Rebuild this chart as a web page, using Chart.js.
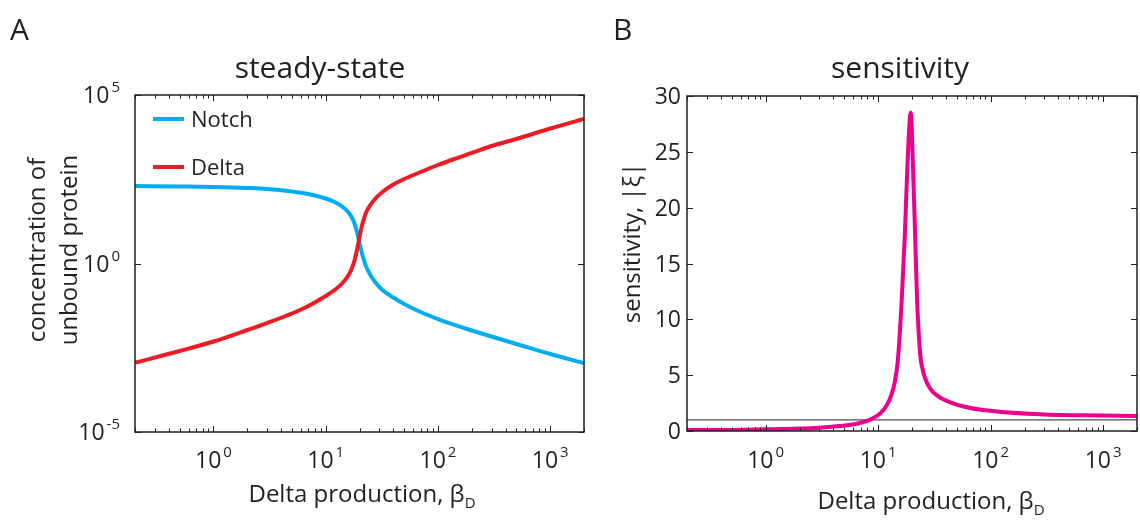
<!DOCTYPE html>
<html>
<head>
<meta charset="utf-8">
<script src="https://cdn.jsdelivr.net/npm/chart.js@4.4.1/dist/chart.umd.min.js"></script>
<style>
  html, body { margin: 0; padding: 0; background: #fff; }
  #wrap { position: relative; width: 1140px; height: 521px; }
  #chartA { position: absolute; left: 0; top: 0; }
  #chartB { position: absolute; left: 590px; top: 0; }
</style>
</head>
<body>
<div id="wrap">
  <canvas id="chartA" width="590" height="521"></canvas>
  <canvas id="chartB" width="550" height="521"></canvas>
</div>
<script>
// Panel A: steady-state concentrations vs Delta production (log-log)
const betaD = [0.2, 0.5, 1, 2, 3, 5, 7, 10, 12, 14, 16, 17, 18, 19, 20, 21, 22, 23, 25, 28, 32, 40, 50, 70, 100, 140, 200, 300, 500, 1000, 2000];
const notchLevel = [199.5, 192.8, 186.2, 173.8, 162.5, 136.9, 115.3, 84.8, 66.8, 49.1, 32.6, 24.0, 15.9, 8.61, 4.06, 2.05, 1.19, 0.787, 0.456, 0.264, 0.164, 0.098, 0.0628, 0.0364, 0.0225, 0.0150, 0.0103, 0.00682, 0.00409, 0.00206, 0.00111];
const deltaLevel = [0.00114, 0.00253, 0.00485, 0.01064, 0.01715, 0.0328, 0.0548, 0.1086, 0.1637, 0.2552, 0.456, 0.687, 1.186, 2.52, 6.11, 12.97, 22.4, 33.7, 54.4, 87.9, 132.5, 220.9, 321.4, 518.8, 837.5, 1262, 1903, 3070, 4947, 10140, 19400];

// Panel B: sensitivity vs Delta production (log x)
const sensBeta = [0.2, 0.5, 1, 2, 3, 4.5, 6.06, 8.42, 10.5, 11.93, 13.2, 14.06, 14.86, 15.57, 16.2, 17.3, 18.2, 19.5, 20.4, 21.3, 22.2, 23.8, 24.9, 26.0, 28.2, 30.6, 36.1, 44.3, 60, 85.3, 237, 661, 2000];
const sensValue = [0.08, 0.1, 0.15, 0.22, 0.3, 0.45, 0.6, 1.0, 1.6, 2.3, 3.3, 4.4, 6.0, 8.7, 11.7, 17.7, 23.7, 28.5, 23.7, 17.7, 11.7, 6.6, 5.5, 4.8, 4.0, 3.5, 2.95, 2.55, 2.15, 1.88, 1.52, 1.40, 1.34];
const refBeta = [0.2, 2000];
const refValue = [1, 1];

// tick labels
const xDecades = [0, 1, 2, 3];
const yDecadesA = [5, 0, -5];
const yTicksB = [0, 5, 10, 15, 20, 25, 30];

const ink = '#231f20';
const family = "'Open Sans', sans-serif";

function toPoints(xs, ys) {
  return xs.map((v, i) => ({ x: v, y: ys[i] }));
}

function powLabel(ctx, x, y, exp, align) {
  ctx.font = '23px ' + family;
  const wBase = ctx.measureText('10').width;
  ctx.font = '15px ' + family;
  const wExp = ctx.measureText(exp).width;
  const total = wBase + 2 + wExp;
  const x0 = align === 'center' ? x - total / 2 : x - total;
  ctx.textAlign = 'left';
  ctx.font = '23px ' + family;
  ctx.fillText('10', x0, y);
  ctx.font = '15px ' + family;
  ctx.fillText(exp, x0 + wBase + 2, y - 11);
}

function logMinorTicks(min, max) {
  const out = [];
  for (let n = -1; n <= 3; n++) {
    for (let k = 1; k <= 9; k++) {
      const v = k * Math.pow(10, n);
      if (v >= min && v <= max) out.push({ v: v, major: k === 1 });
    }
  }
  return out;
}

const frame = {
  id: 'frame',
  afterDraw(chart, args, o) {
    const { ctx, chartArea: a } = chart;
    const xs = chart.scales.x, ys = chart.scales.y;
    ctx.save();
    ctx.strokeStyle = ink;
    ctx.fillStyle = ink;
    ctx.lineWidth = 1;
    ctx.beginPath();
    logMinorTicks(xs.min, xs.max).forEach(t => {
      const px = Math.round(xs.getPixelForValue(t.v)) + 0.5;
      const len = t.major ? 6 : 3.5;
      ctx.moveTo(px, a.bottom); ctx.lineTo(px, a.bottom - len);
      ctx.moveTo(px, a.top); ctx.lineTo(px, a.top + len);
    });
    o.yTicks.forEach(v => {
      const py = Math.round(ys.getPixelForValue(v)) + 0.5;
      ctx.moveTo(a.left, py); ctx.lineTo(a.left + 6, py);
      ctx.moveTo(a.right, py); ctx.lineTo(a.right - 6, py);
    });
    ctx.stroke();
    ctx.lineWidth = 1.5;
    ctx.strokeRect(a.left, a.top, a.right - a.left, a.bottom - a.top);

    // x tick labels
    ctx.textBaseline = 'alphabetic';
    xDecades.forEach(d => {
      powLabel(ctx, xs.getPixelForValue(Math.pow(10, d)), 468, String(d), 'center');
    });
    // y tick labels
    if (o.logY) {
      yDecadesA.forEach(d => {
        powLabel(ctx, a.left - 15, ys.getPixelForValue(Math.pow(10, d)) + 8, String(d), 'right');
      });
    } else {
      ctx.font = '23px ' + family;
      ctx.textAlign = 'right';
      yTicksB.forEach(v => ctx.fillText(String(v), a.left - 6, ys.getPixelForValue(v) + 8));
    }

    // x axis title with subscript
    ctx.font = '24px ' + family;
    const main = 'Delta production, β';
    const wMain = ctx.measureText(main).width;
    ctx.font = '15px ' + family;
    const wSub = ctx.measureText('D').width;
    const x0 = o.xTitleX - (wMain + wSub) / 2;
    ctx.textAlign = 'left';
    ctx.font = '24px ' + family;
    ctx.fillText(main, x0, o.xTitleY);
    ctx.font = '15px ' + family;
    ctx.fillText('D', x0 + wMain, o.xTitleY + 6);

    // y axis title (rotated)
    ctx.font = '24px ' + family;
    ctx.textAlign = 'center';
    o.yTitle.forEach((line, i) => {
      ctx.save();
      ctx.translate(o.yTitleX[i], o.yTitleY);
      ctx.rotate(-Math.PI / 2);
      ctx.fillText(line, 0, 0);
      ctx.restore();
    });

    // panel title and letter
    ctx.font = '30px ' + family;
    ctx.textAlign = 'center';
    ctx.fillText(o.title, o.titleX, 78);
    ctx.textAlign = 'left';
    ctx.fillText(o.letter, o.letterX, 40);

    // legend
    if (o.legend) {
      chart.data.datasets.forEach((ds, i) => {
        const ly = 119 + i * 48;
        ctx.strokeStyle = ds.borderColor;
        ctx.lineWidth = 4;
        ctx.beginPath();
        ctx.moveTo(153, ly); ctx.lineTo(184, ly);
        ctx.stroke();
        ctx.fillStyle = ink;
        ctx.font = '22px ' + family;
        ctx.textAlign = 'left';
        ctx.fillText(ds.label, 191, ly + 8);
      });
    }
    ctx.restore();
  }
};

Chart.register(frame);

new Chart(document.getElementById('chartA'), {
  type: 'line',
  data: {
    datasets: [
      { label: 'Notch', data: toPoints(betaD, notchLevel), borderColor: '#00aeef', borderWidth: 4, pointRadius: 0, cubicInterpolationMode: 'monotone', order: 2 },
      { label: 'Delta', data: toPoints(betaD, deltaLevel), borderColor: '#ed1c24', borderWidth: 4, pointRadius: 0, cubicInterpolationMode: 'monotone', order: 1 }
    ]
  },
  options: {
    responsive: false,
    animation: false,
    layout: { padding: { left: 135, right: 6, top: 95, bottom: 89 } },
    scales: {
      x: { type: 'logarithmic', min: 0.2, max: 2000, display: false },
      y: { type: 'logarithmic', min: 1e-5, max: 1e5, display: false }
    },
    plugins: {
      legend: { display: false },
      tooltip: { enabled: false },
      frame: {
        logY: true, yTicks: [1e-5, 1, 1e5],
        xTitleX: 362, xTitleY: 502,
        yTitle: ['concentration of', 'unbound protein'], yTitleX: [45, 77], yTitleY: 250,
        title: 'steady-state', titleX: 320, letter: 'A', letterX: 10, legend: true
      }
    }
  }
});

new Chart(document.getElementById('chartB'), {
  type: 'line',
  data: {
    datasets: [
      { label: 'sensitivity', data: toPoints(sensBeta, sensValue), borderColor: '#ec008c', borderWidth: 4, pointRadius: 0, cubicInterpolationMode: 'monotone', order: 1 },
      { label: 'reference', data: toPoints(refBeta, refValue), borderColor: '#4d4d4d', borderWidth: 1.2, pointRadius: 0, order: 2 }
    ]
  },
  options: {
    responsive: false,
    animation: false,
    layout: { padding: { left: 97, right: 3, top: 96, bottom: 90 } },
    scales: {
      x: { type: 'logarithmic', min: 0.2, max: 2000, display: false },
      y: { type: 'linear', min: 0, max: 30, display: false }
    },
    plugins: {
      legend: { display: false },
      tooltip: { enabled: false },
      frame: {
        logY: false, yTicks: yTicksB,
        xTitleX: 341, xTitleY: 509,
        yTitle: ['sensitivity, |ξ|'], yTitleX: [50], yTitleY: 243,
        title: 'sensitivity', titleX: 310, letter: 'B', letterX: 23, legend: false
      }
    }
  }
});
</script>
</body>
</html>
